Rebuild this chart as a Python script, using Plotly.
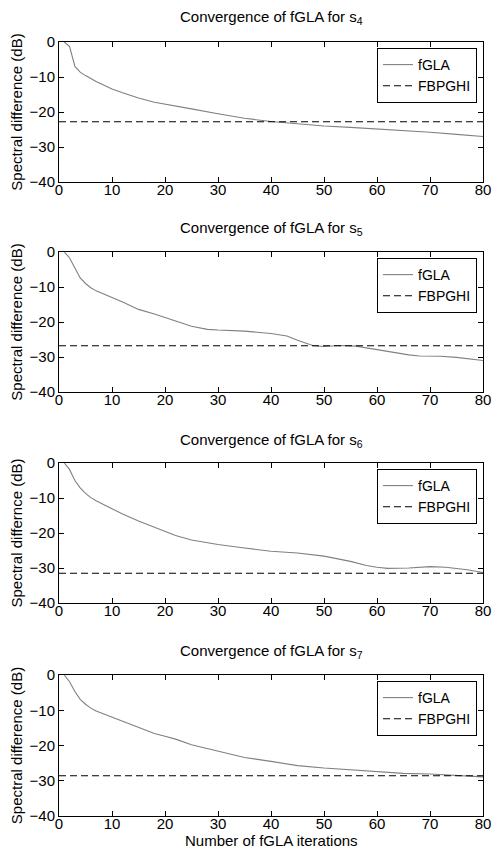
import plotly.graph_objects as go

# ---------------- data ----------------
titles = ["Convergence of fGLA for s<sub>4</sub>",
          "Convergence of fGLA for s<sub>5</sub>",
          "Convergence of fGLA for s<sub>6</sub>",
          "Convergence of fGLA for s<sub>7</sub>"]
ylabels = ["Spectral difference (dB)", "Spectral difference (dB)",
           "Spectral differnce (dB)", "Spectral difference (dB)"]
xlabel = "Number of fGLA iterations"

iters_s4 = [1, 2, 3, 4, 5, 6, 7, 8, 10, 12, 15, 18, 20, 25, 30, 35, 40, 45, 50, 55, 60, 65, 70, 75, 80]
fgla_s4 = [0, -1.3, -7.0, -8.6, -9.6, -10.5, -11.3, -12.0, -13.4, -14.5, -16.0, -17.2, -17.8,
           -19.1, -20.5, -21.8, -22.7, -23.4, -24.0, -24.4, -24.8, -25.3, -25.8, -26.4, -27.0]
fbpghi_s4 = -22.8

iters_s5 = [1, 2, 3, 4, 5, 6, 7, 8, 10, 12, 15, 18, 20, 22, 25, 28, 30, 35, 40, 43, 45, 47, 48,
            50, 53, 56, 60, 63, 66, 68, 72, 75, 78, 80]
fgla_s5 = [0, -1.7, -4.6, -7.4, -9.0, -10.2, -11.1, -11.8, -13.0, -14.3, -16.4, -17.7, -18.6,
           -19.7, -21.2, -22.1, -22.3, -22.6, -23.3, -24.0, -25.2, -26.4, -26.8, -27.0, -26.7,
           -26.9, -27.9, -28.8, -29.4, -29.7, -29.8, -30.1, -30.6, -31.0]
fbpghi_s5 = -26.8

iters_s6 = [1, 2, 3, 4, 5, 6, 7, 8, 10, 12, 15, 18, 20, 22, 25, 28, 30, 35, 40, 45, 48, 50, 55,
            58, 60, 62, 66, 70, 73, 77, 80]
fgla_s6 = [0, -1.9, -5.0, -7.1, -8.7, -9.9, -10.8, -11.6, -13.2, -14.6, -16.6, -18.4, -19.6,
           -20.7, -22.0, -22.8, -23.3, -24.3, -25.2, -25.7, -26.2, -26.6, -28.1, -29.3, -29.8,
           -30.1, -30.0, -29.6, -29.8, -30.5, -31.3]
fbpghi_s6 = -31.5

iters_s7 = [1, 2, 3, 4, 5, 6, 7, 8, 10, 12, 15, 18, 20, 22, 25, 30, 35, 40, 45, 50, 55, 60, 65,
            70, 75, 80]
fgla_s7 = [0, -1.9, -4.7, -6.9, -8.3, -9.4, -10.2, -10.8, -12.0, -13.2, -15.0, -16.6, -17.4,
           -18.2, -19.8, -21.7, -23.4, -24.5, -25.7, -26.4, -26.9, -27.5, -27.9, -28.1, -28.4,
           -28.9]
fbpghi_s7 = -28.6

x_ticks = [0, 10, 20, 30, 40, 50, 60, 70, 80]
y_ticks = [-40, -30, -20, -10, 0]

panels = [(iters_s4, fgla_s4, fbpghi_s4), (iters_s5, fgla_s5, fbpghi_s5),
          (iters_s6, fgla_s6, fbpghi_s6), (iters_s7, fgla_s7, fbpghi_s7)]

# ---------------- layout helpers ----------------
W, H = 493, 854
ML, MR = 59, 10
PW = W - ML - MR
plot_px = [(42, 182), (252, 392), (463, 603), (675, 816)]   # page pixels: top, bottom
title_px = [17, 228, 440, 651]
xtitle_px = 840


def py(p):
    return 1 - p / H


def px(p):
    return (p - ML) / PW


FONT = "Liberation Sans, Arial, Helvetica, sans-serif"
fig = go.Figure()
layout = dict(width=W, height=H, margin=dict(l=ML, r=MR, t=0, b=0),
              paper_bgcolor="white", plot_bgcolor="white",
              font=dict(family=FONT, size=15, color="black"),
              annotations=[])

for i, (xs, ys, ref) in enumerate(panels):
    n = i + 1
    sfx = "" if n == 1 else str(n)
    lg = "legend" if n == 1 else f"legend{n}"
    fig.add_trace(go.Scatter(x=xs, y=ys, mode="lines", name="fGLA",
                             line=dict(color="#808080", width=1.1),
                             xaxis=f"x{sfx}", yaxis=f"y{sfx}", legend=lg))
    fig.add_trace(go.Scatter(x=[x_ticks[0], x_ticks[-1]], y=[ref, ref], mode="lines",
                             name="FBPGHI",
                             line=dict(color="black", width=1.1, dash="7px,4px"),
                             xaxis=f"x{sfx}", yaxis=f"y{sfx}", legend=lg))
    top, bot = plot_px[i]
    axis_common = dict(showline=True, linecolor="black", linewidth=1, mirror="ticks",
                       ticks="inside", ticklen=5, tickcolor="black", tickwidth=1,
                       showgrid=False, zeroline=False, automargin=False,
                       tickfont=dict(family=FONT, size=15, color="black"))
    layout[f"xaxis{sfx}"] = dict(axis_common, domain=[0, 1], range=[0, 80],
                                 tickvals=x_ticks, anchor=f"y{sfx}",
                                 ticklabelstandoff=-6)
    layout[f"yaxis{sfx}"] = dict(axis_common, domain=[py(bot), py(top)], range=[-40, 0],
                                 tickvals=y_ticks, anchor=f"x{sfx}",
                                 title=dict(text=ylabels[i], standoff=3,
                                            font=dict(family=FONT, size=15)))
    layout[lg] = dict(x=px(477), y=py(top + 6), xanchor="right", yanchor="top",
                      bgcolor="white", bordercolor="black", borderwidth=1,
                      font=dict(family=FONT, size=14, color="black"),
                      tracegroupgap=0)
    layout["annotations"].append(dict(text=titles[i], xref="paper", yref="paper",
                                      x=0.5, y=py(title_px[i]), xanchor="center",
                                      yanchor="middle", showarrow=False,
                                      font=dict(family=FONT, size=15, color="black")))

layout["annotations"].append(dict(text=xlabel, xref="paper", yref="paper",
                                  x=0.5, y=py(xtitle_px), xanchor="center",
                                  yanchor="middle", showarrow=False,
                                  font=dict(family=FONT, size=15, color="black")))

fig.update_layout(**layout)
fig.update_layout(showlegend=True)
fig.write_html("out.html", config={"displayModeBar": False},
               post_script="document.body.style.margin='0';"
                           "document.body.style.overflow='hidden';")
